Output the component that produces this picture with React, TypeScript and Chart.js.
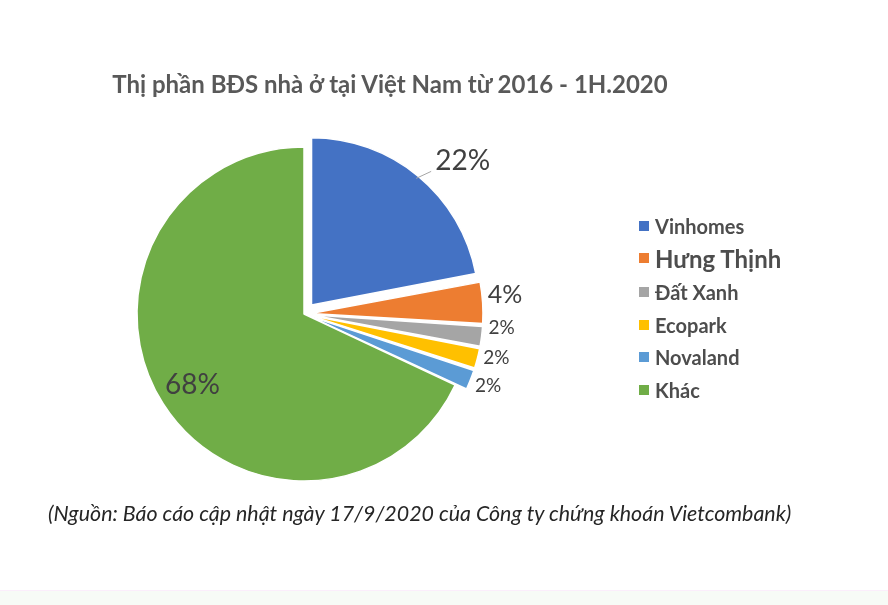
import React, { useEffect, useRef } from "react";
import { Chart, registerables } from "chart.js";

Chart.register(...registerables);

const categories = ["Vinhomes", "Hưng Thịnh", "Đất Xanh", "Ecopark", "Novaland", "Khác"];
const shares = [22, 4, 2, 2, 2, 68];
const labelTexts = ["22%", "4%", "2%", "2%", "2%", "68%"];
const colors = ["#4472C4", "#ED7D31", "#A5A5A5", "#FFC000", "#5B9BD5", "#70AD47"];
const exploded = [true, true, true, true, true, false];

const title = "Thị phần BĐS nhà ở tại Việt Nam từ 2016 - 1H.2020";
const source = "(Nguồn: Báo cáo cập nhật ngày 17/9/2020 của Công ty chứng khoán Vietcombank)";

const FONT = "Lato, 'Open Sans', sans-serif";
const SHIFT = 12; // desired visual explode distance in px
const RADIUS = 167;

// style of each data label
const labelStyle = [
  { size: 28, mode: "leader", gap: 0, dy: 0 },
  { size: 25, mode: "out", gap: 5, dy: -8 },
  { size: 19, mode: "out", gap: 7, dy: -9 },
  { size: 19, mode: "out", gap: 6, dy: -2 },
  { size: 19, mode: "out", gap: 5, dy: 4 },
  { size: 28, mode: "in", gap: 132, dy: 0 },
];

const total = shares.reduce((a, b) => a + b, 0);
function chartOffset(i: number) {
  if (!exploded[i]) return 0;
  const circ = (shares[i] / total) * Math.PI * 2;
  const fix = 1 - Math.sin(Math.min(Math.PI, circ));
  return (4 * SHIFT) / (1 + fix);
}
function visualShift(i: number, circ: number) {
  const off = chartOffset(i) / 4;
  const fix = 1 - Math.sin(Math.min(Math.PI, circ));
  return off * (1 + fix);
}

const labelPlugin = {
  id: "sliceLabels",
  afterDatasetsDraw(chart: any) {
    const ctx = chart.ctx;
    const meta = chart.getDatasetMeta(0);
    meta.data.forEach((arc: any, i: number) => {
      const st = labelStyle[i];
      const mid = (arc.startAngle + arc.endAngle) / 2;
      const circ = arc.endAngle - arc.startAngle;
      const t = visualShift(i, circ);
      const cx = arc.x + Math.cos(mid) * t;
      const cy = arc.y + Math.sin(mid) * t;
      ctx.save();
      ctx.fillStyle = "#404040";
      ctx.font = `${st.size}px ${FONT}`;
      if (st.mode === "in") {
        ctx.textAlign = "center";
        ctx.textBaseline = "middle";
        ctx.fillText(labelTexts[i], cx + Math.cos(mid) * st.gap, cy + Math.sin(mid) * st.gap + st.dy);
      } else if (st.mode === "out") {
        const r = arc.outerRadius + st.gap;
        ctx.textAlign = "left";
        ctx.textBaseline = "middle";
        ctx.fillText(labelTexts[i], cx + Math.cos(mid) * r, cy + Math.sin(mid) * r + st.dy);
      } else {
        const px = cx + Math.cos(mid) * (arc.outerRadius - 3);
        const py = cy + Math.sin(mid) * (arc.outerRadius - 3);
        const ex = px + 15;
        const ey = py - 7;
        ctx.strokeStyle = "#A6A6A6";
        ctx.lineWidth = 1;
        ctx.beginPath();
        ctx.moveTo(px, py);
        ctx.lineTo(ex, ey);
        ctx.stroke();
        ctx.textAlign = "left";
        ctx.textBaseline = "alphabetic";
        ctx.fillText(labelTexts[i], ex + 4, ey - 1);
      }
      ctx.restore();
    });
  },
};

export default function App() {
  const ref = useRef<HTMLCanvasElement | null>(null);
  useEffect(() => {
    if (!ref.current) return;
    const chart = new Chart(ref.current, {
      type: "pie",
      data: {
        labels: categories,
        datasets: [
          {
            data: shares,
            backgroundColor: colors,
            borderColor: "#ffffff",
            borderWidth: 1.5,
            offset: shares.map((_, i) => chartOffset(i)),
          },
        ],
      },
      options: {
        responsive: false,
        animation: false,
        devicePixelRatio: 1,
        radius: RADIUS,
        layout: { padding: { left: 104, right: 384, top: 114, bottom: 91 } },
        plugins: {
          legend: { display: false },
          title: { display: false },
          tooltip: { enabled: false },
        },
      } as any,
      plugins: [labelPlugin],
    });
    return () => chart.destroy();
  }, []);

  const legendRows = [
    { y: 226, size: 20 },
    { y: 258, size: 24 },
    { y: 292, size: 20 },
    { y: 325, size: 20 },
    { y: 357, size: 20 },
    { y: 390, size: 20 },
  ];

  return (
    <div style={{ position: "fixed", left: 0, top: 0, width: 888, height: 605, background: "#ffffff", overflow: "hidden" }}>
      <canvas ref={ref} width={888} height={605} style={{ position: "absolute", left: 0, top: 0 }} />
      <div
        style={{
          position: "absolute", left: 0, width: 780, top: 69, textAlign: "center",
          font: `bold 24px ${FONT}`, color: "#595959", whiteSpace: "nowrap", lineHeight: "30px",
        }}
      >
        {title}
      </div>
      {categories.map((c, i) => (
        <div key={c} style={{ position: "absolute", left: 639, top: legendRows[i].y - 15, height: 30, display: "flex", alignItems: "center" }}>
          <span style={{ display: "inline-block", width: 10, height: 10, background: colors[i], marginRight: 6 }} />
          <span style={{ font: `bold ${legendRows[i].size}px ${FONT}`, color: "#4d4d4d", whiteSpace: "nowrap" }}>{c}</span>
        </div>
      ))}
      <div
        style={{
          position: "absolute", left: 48, top: 498, font: `italic 21.4px ${FONT}`, color: "#262626",
          whiteSpace: "nowrap", lineHeight: "30px",
        }}
      >
        {source}
      </div>
      <div style={{ position: "absolute", left: 0, top: 590, width: 888, height: 15, background: "#f7fbf6", borderTop: "1px solid #fbeefb" }} />
    </div>
  );
}
